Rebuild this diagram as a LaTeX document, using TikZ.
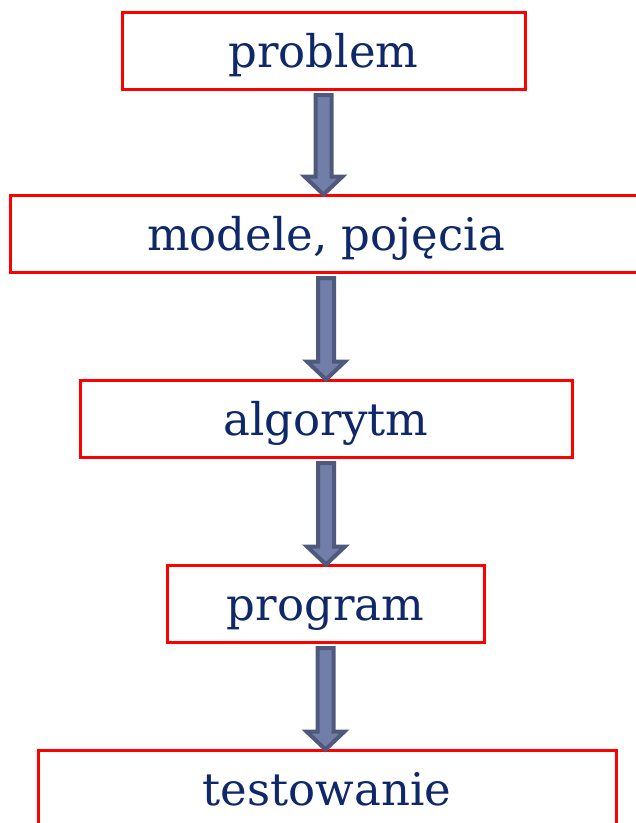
\documentclass[tikz,border=0pt]{standalone}
\usepackage{fontspec}
\setmainfont{DejaVu Serif}
\usetikzlibrary{calc}
\definecolor{txt}{RGB}{14,40,105}
\definecolor{afill}{RGB}{112,126,168}
\definecolor{aline}{RGB}{78,89,125}
\tikzset{
  box/.style={draw=red, line width=3pt, fill=white, rectangle, minimum height=77pt,
    text=txt, font=\fontsize{45}{54}\selectfont, text height=38pt, text depth=4pt, inner sep=0pt},
  blockarrow/.style={draw=aline, fill=afill, line width=4pt, line join=miter}
}
\newcommand{\blockarr}[2]{%
  \draw[blockarrow] ($(#1.south)+(-8,4.5)$) -- ($(#1.south)+(8,4.5)$)
    -- ($(#1.south |- #2.north)+(8,-17)$) -- ($(#1.south |- #2.north)+(19,-17)$)
    -- ($(#1.south |- #2.north)+(0,1)$) -- ($(#1.south |- #2.north)+(-19,-17)$)
    -- ($(#1.south |- #2.north)+(-8,-17)$) -- cycle;}
\begin{document}
\begin{tikzpicture}[x=1pt,y=-1pt]
\useasboundingbox (0,0) rectangle (636,823);
\clip (0,0) rectangle (636,823);
\node[box, minimum width=403pt] (p) at (323.5,50.5) {problem};
\node[box, minimum width=632pt] (m) at (326,233.5) {modele, pojęcia};
\node[box, minimum width=492pt] (a) at (326,418.5) {algorytm};
\node[box, minimum width=317pt] (g) at (325.5,603.5) {program};
\node[box, minimum width=578pt] (t) at (327,788.5) {testowanie};
\blockarr{p}{m}
\blockarr{m}{a}
\blockarr{a}{g}
\blockarr{g}{t}
\end{tikzpicture}
\end{document}
